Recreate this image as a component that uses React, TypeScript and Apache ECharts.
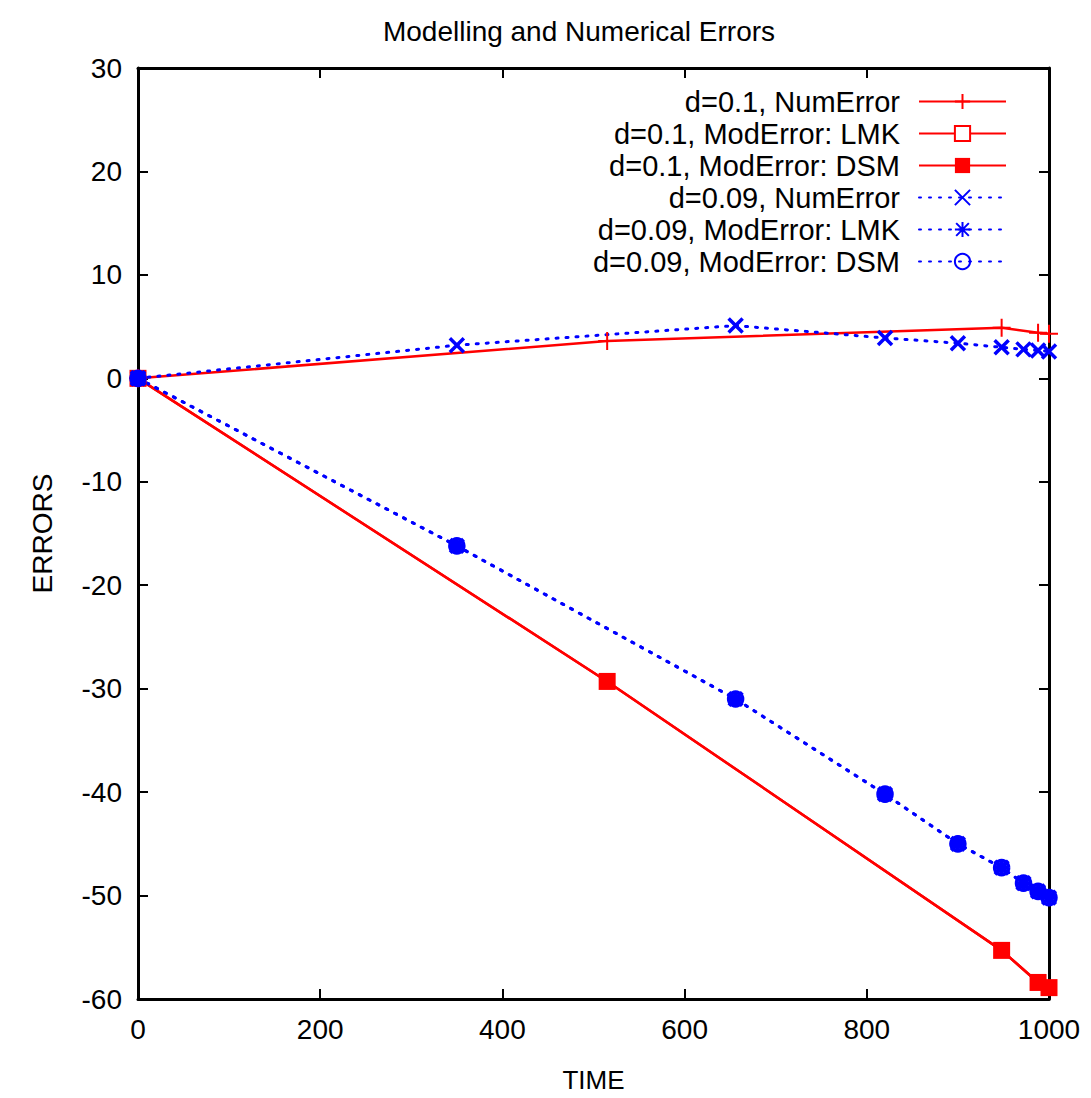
import React, { useEffect, useRef } from "react";
import * as echarts from "echarts";

const timeD01 = [0, 515, 948, 988, 1000];
const numErrD01 = [0, 3.6, 4.9, 4.4, 4.3];
const lmkErrD01 = [0, -29.3, -55.3, -58.4, -58.9];
const dsmErrD01 = [0, -29.3, -55.3, -58.4, -58.9];

const timeD009 = [0, 350, 656, 820, 900, 948, 972, 988, 1000];
const numErrD009 = [0, 3.2, 5.1, 3.9, 3.4, 3.0, 2.8, 2.7, 2.6];
const lmkErrD009 = [0, -16.2, -31.0, -40.2, -45.0, -47.3, -48.8, -49.6, -50.2];
const dsmErrD009 = [0, -16.2, -31.0, -40.2, -45.0, -47.3, -48.8, -49.6, -50.2];

const seriesNames = [
  "d=0.1, NumError",
  "d=0.1, ModError: LMK",
  "d=0.1, ModError: DSM",
  "d=0.09, NumError",
  "d=0.09, ModError: LMK",
  "d=0.09, ModError: DSM",
];

const xTicks = { min: 0, max: 1000, interval: 200 };
const yTicks = { min: -60, max: 30, interval: 10 };

const pair = (xs: number[], ys: number[]) => xs.map((x, i) => [x, ys[i]]);

const FONT = "Liberation Sans";
const RED = "#ff0000";
const BLUE = "#0000ff";

const PLUS = "path://M5,0L5,10M0,5L10,5";
const CROSS = "path://M0,0L10,10M0,10L10,0";
const STAR = "path://M0,0L10,10M0,10L10,0M5,-1L5,11M-1,5L11,5";

export default function App() {
  const ref = useRef<HTMLDivElement>(null);
  useEffect(() => {
    if (!ref.current) return;
    const chart = echarts.init(ref.current, null, { renderer: "svg" });
    const redLine = { color: RED, width: 2.5, type: "solid" as const };
    const blueLine = { color: BLUE, width: 3, type: [2, 8] as any, cap: "round" as const };
    const axisCommon = {
      type: "value" as const,
      axisLine: { show: true, onZero: false, lineStyle: { color: "#000", width: 3 } },
      axisTick: { show: true, inside: true, length: 10, lineStyle: { color: "#000", width: 2 } },
      splitLine: { show: false },
    };
    chart.setOption({
      animation: false,
      backgroundColor: "#fff",
      title: {
        text: "Modelling and Numerical Errors",
        left: 574,
        top: 12,
        textAlign: "center",
        textStyle: { fontFamily: FONT, fontSize: 28, fontWeight: "normal", color: "#000" },
      },
      legend: {
        orient: "vertical",
        align: "right",
        right: 79,
        top: 82,
        itemWidth: 87,
        itemHeight: 19,
        itemGap: 3,
        data: seriesNames,
        textStyle: { fontFamily: FONT, fontSize: 29, color: "#000", lineHeight: 28, padding: [0, 14, 0, 0] },
      },
      grid: { left: 138, top: 68, right: 42, bottom: 97 },
      xAxis: [
        {
          ...axisCommon,
          ...xTicks,
          position: "bottom",
          name: "TIME",
          nameLocation: "middle",
          nameGap: 68,
          nameTextStyle: { fontFamily: FONT, fontSize: 26, color: "#000" },
          axisLabel: { fontFamily: FONT, fontSize: 28, color: "#000", margin: 16, formatter: (v: number) => String(v) },
        },
        {
          ...axisCommon,
          ...xTicks,
          position: "top",
          axisLabel: { show: false },
        },
      ],
      yAxis: [
        {
          ...axisCommon,
          ...yTicks,
          position: "left",
          name: "ERRORS",
          nameLocation: "middle",
          nameGap: 82,
          nameRotate: 90,
          nameTextStyle: { fontFamily: FONT, fontSize: 28, color: "#000" },
          axisLabel: { fontFamily: FONT, fontSize: 28, color: "#000", margin: 16, formatter: (v: number) => String(v) },
        },
        {
          ...axisCommon,
          ...yTicks,
          position: "right",
          axisLabel: { show: false },
        },
      ],
      series: [
        {
          name: seriesNames[0],
          type: "line",
          data: pair(timeD01, numErrD01),
          lineStyle: redLine,
          symbol: PLUS,
          symbolSize: 18,
          itemStyle: { color: RED, borderColor: RED, borderWidth: 2 },
        },
        {
          name: seriesNames[1],
          type: "line",
          data: pair(timeD01, lmkErrD01),
          lineStyle: redLine,
          symbol: "emptyRect",
          symbolSize: 13,
          itemStyle: { color: RED, borderColor: RED, borderWidth: 2 },
        },
        {
          name: seriesNames[2],
          type: "line",
          data: pair(timeD01, dsmErrD01),
          lineStyle: redLine,
          symbol: "rect",
          symbolSize: 17,
          itemStyle: { color: RED, borderColor: RED, borderWidth: 0 },
        },
        {
          name: seriesNames[3],
          type: "line",
          data: pair(timeD009, numErrD009),
          lineStyle: blueLine,
          symbol: CROSS,
          symbolSize: 14,
          itemStyle: { color: BLUE, borderColor: BLUE, borderWidth: 3.5 },
        },
        {
          name: seriesNames[4],
          type: "line",
          data: pair(timeD009, lmkErrD009),
          lineStyle: blueLine,
          symbol: STAR,
          symbolSize: 16,
          itemStyle: { color: BLUE, borderColor: BLUE, borderWidth: 4 },
        },
        {
          name: seriesNames[5],
          type: "line",
          data: pair(timeD009, dsmErrD009),
          lineStyle: blueLine,
          symbol: "circle",
          symbolSize: 14,
          itemStyle: { color: "rgba(0,0,255,0)", borderColor: BLUE, borderWidth: 3.5 },
        },
      ],
    });
    return () => chart.dispose();
  }, []);
  return (
    <div
      ref={ref}
      style={{ position: "absolute", left: 0, top: 0, width: 1091, height: 1098 }}
    />
  );
}
